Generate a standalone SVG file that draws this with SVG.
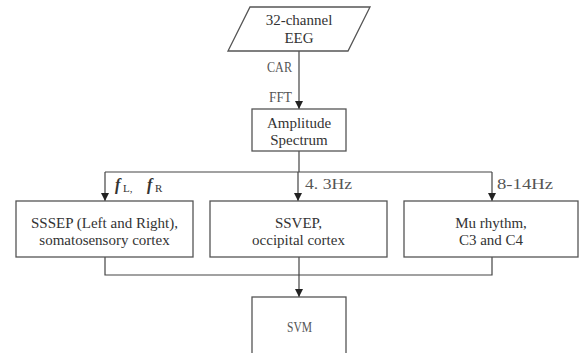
<svg xmlns="http://www.w3.org/2000/svg" width="581" height="353" viewBox="0 0 581 353">
<style>
.box{fill:#fff;stroke:#555;stroke-width:1.3}
.ln{fill:none;stroke:#444;stroke-width:1.2}
.t{font-family:'Liberation Serif','Times New Roman',serif;font-size:15px;fill:#333;text-anchor:middle}
.c{font-family:'Liberation Serif','Times New Roman',serif;font-size:14px;fill:#555}
.f{font-family:'Liberation Serif','Times New Roman',serif;font-size:16px;font-style:italic;font-weight:bold;fill:#333}
.s{font-family:'Liberation Serif','Times New Roman',serif;font-size:11px;fill:#333}
</style>
<defs>
<marker id="ah" viewBox="0 0 10 10" refX="10" refY="5" markerWidth="8" markerHeight="8" markerUnits="userSpaceOnUse" orient="auto">
<path d="M0,0 L10,5 L0,10 Z" fill="#222"/>
</marker>
</defs>
<rect width="581" height="353" fill="#fff"/>
<g id="connectors">
<line class="ln" x1="299" y1="51" x2="299" y2="109" marker-end="url(#ah)"/>
<line class="ln" x1="299" y1="151" x2="299" y2="172"/>
<line class="ln" x1="105" y1="172" x2="492" y2="172"/>
<line class="ln" x1="105" y1="172" x2="105" y2="201" marker-end="url(#ah)"/>
<line class="ln" x1="298" y1="172" x2="298" y2="201" marker-end="url(#ah)"/>
<line class="ln" x1="492" y1="172" x2="492" y2="201" marker-end="url(#ah)"/>
<polyline class="ln" points="105,257 105,275 492,275 492,257"/>
<line class="ln" x1="299" y1="257" x2="299" y2="297" marker-end="url(#ah)"/>
<text class="c" x="267" y="72" textLength="25" lengthAdjust="spacingAndGlyphs">CAR</text>
<text class="c" x="269" y="102" textLength="23" lengthAdjust="spacingAndGlyphs">FFT</text>
<text class="f" x="115" y="190">f</text>
<text class="s" x="123" y="192">L,</text>
<text class="f" x="147" y="190">f</text>
<text class="s" x="155" y="192">R</text>
<text class="c" x="305" y="189" textLength="47" lengthAdjust="spacingAndGlyphs">4. 3Hz</text>
<text class="c" x="497" y="189" textLength="56" lengthAdjust="spacingAndGlyphs">8-14Hz</text>
</g>
<g id="eeg">
<polygon class="box" points="250,7 370,7 348,51 228,51"/>
<text class="t" x="299" y="25">32-channel</text>
<text class="t" x="299" y="43">EEG</text>
</g>
<g id="amplitude">
<rect class="box" x="252" y="109" width="94" height="42"/>
<text class="t" x="299" y="128">Amplitude</text>
<text class="t" x="299" y="145">Spectrum</text>
</g>
<g id="sssep">
<rect class="box" x="16" y="201" width="177" height="56"/>
<text class="t" x="104.5" y="228">SSSEP (Left and Right),</text>
<text class="t" x="104.5" y="245">somatosensory cortex</text>
</g>
<g id="ssvep">
<rect class="box" x="210" y="201" width="177" height="56"/>
<text class="t" x="298.5" y="228">SSVEP,</text>
<text class="t" x="298.5" y="245">occipital cortex</text>
</g>
<g id="mu">
<rect class="box" x="404" y="201" width="174" height="56"/>
<text class="t" x="491" y="228">Mu rhythm,</text>
<text class="t" x="491" y="245">C3 and C4</text>
</g>
<g id="svm">
<rect class="box" x="252" y="297" width="94" height="70"/>
<text class="c" x="287" y="332" textLength="25" lengthAdjust="spacingAndGlyphs">SVM</text>
</g>
</svg>
